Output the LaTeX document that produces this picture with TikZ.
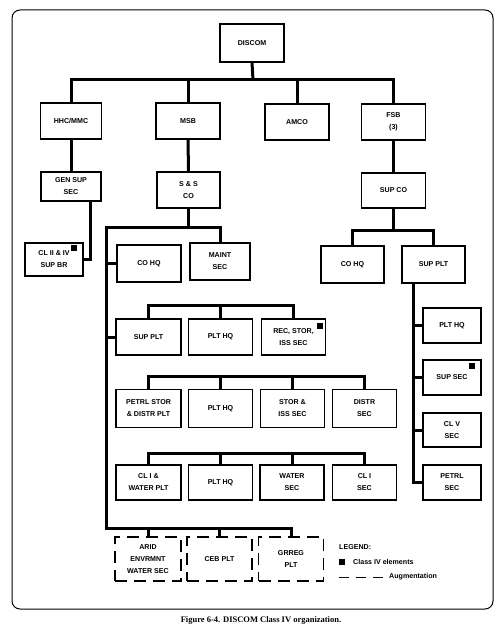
\documentclass[tikz,border=0pt]{standalone}
\usepackage{fontspec}
\setmainfont{Liberation Sans}
\newfontfamily\capfont{Liberation Serif}
\begin{document}
\begin{tikzpicture}[x=1pt,y=-1pt,
  box/.style={draw, line width=1.2pt, minimum width=64pt, minimum height=36pt, inner sep=1pt, align=center, font=\fontsize{7.1}{12}\selectfont\bfseries},
  dbox/.style={box, dash pattern=on 12pt off 7pt},
  conn/.style={line width=3pt, line join=miter},
  sq/.style={fill=black, minimum size=6pt, inner sep=0pt},
  legtext/.style={anchor=west, inner sep=0pt, font=\fontsize{7.1}{8}\selectfont\bfseries}]
\useasboundingbox (0,0) rectangle (496,631);
% frame
\draw[line width=1pt, rounded corners=8pt] (12,10) rectangle (493,609);
% level 1/2
\node[box, minimum height=38pt] (discom) at (252,43) {DISCOM};
\node[box, minimum width=61pt] (hhc) at (71,121) {HHC/MMC};
\node[box] (msb) at (188,121) {MSB};
\node[box] (amco) at (297,122) {AMCO};
\node[box] (fsb) at (393.5,122) {FSB\\(3)};
\coordinate (top) at (253,80);
\draw[conn] (hhc.north) |- (top) -| (fsb.north);
\draw[conn] (discom.south) -- (top);
\draw[conn] (msb.north) -- (msb.north |- top);
\draw[conn] (amco.north) -- (amco.north |- top);
% HHC branch
\node[box, minimum width=60pt, minimum height=29pt] (gensup) at (71,186.5) {GEN SUP\\SEC};
\node[box, minimum width=58pt, minimum height=33pt] (clii) at (54,259.5) {CL II \& IV\\SUP BR};
\node[sq, anchor=north east] (sqa) at ([xshift=-6pt,yshift=-2pt]clii.north east) {};
\coordinate (gsx) at (90,0);
\draw[conn] (hhc.south) -- (gensup.north);
\draw[conn] (gensup.south -| gsx) |- (clii.east);
% MSB branch
\node[box, minimum width=63pt] (sandsco) at (188.5,190) {S \& S\\CO};
\draw[conn] (msb.south) -- (sandsco.north);
\node[box, minimum height=37pt] (cohqa) at (149,263.5) {CO HQ};
\node[box, minimum width=60pt, minimum height=37pt] (maint) at (220,261.5) {MAINT\\SEC};
\coordinate (mbtop) at (106,227);
\coordinate (mbbot) at (106,528);
% group 2
\node[box, minimum width=65pt] (suppltA) at (148.5,337) {SUP PLT};
\node[box] (plthqA) at (220.5,337) {PLT HQ};
\node[box] (rec) at (293.5,337) {REC, STOR,\\ISS SEC};
\node[sq, anchor=north east] (sqb) at ([xshift=-3pt,yshift=-4pt]rec.north east) {};
% group 3
\node[box, minimum width=65pt, minimum height=38pt] (petrl) at (148.5,408.5) {PETRL STOR\\\& DISTR PLT};
\node[box, minimum height=38pt] (plthqB) at (220.5,408.5) {PLT HQ};
\node[box, minimum height=38pt] (stor) at (292.5,408.5) {STOR \&\\ISS SEC};
\node[box, minimum height=38pt] (distr) at (364.5,408.5) {DISTR\\SEC};
% group 4
\node[box, minimum width=65pt, minimum height=35pt] (cliw) at (148.5,482.5) {CL I \&\\WATER PLT};
\node[box, minimum height=35pt] (plthqC) at (220.5,482.5) {PLT HQ};
\node[box, minimum height=35pt] (water) at (292,482.5) {WATER\\SEC};
\node[box, minimum height=35pt] (cli) at (364.5,482.5) {CL I\\SEC};
% augmentation
\node[dbox, minimum width=66pt, minimum height=44pt] (arid) at (148,559) {ARID\\ENVRMNT\\WATER SEC};
\node[dbox, minimum width=65pt, minimum height=44pt] (ceb) at (219.5,559) {CEB PLT};
\node[dbox, minimum width=65pt, minimum height=44pt] (grreg) at (291,559) {GRREG\\PLT};
% MSB connectors
\draw[conn] (sandsco.south) -- (sandsco.south |- mbtop);
\draw[conn] (maint.north) |- (mbtop) -- (mbbot) -| (grreg.north);
\draw[conn] (cohqa.west) -- (cohqa.west -| mbtop);
\draw[conn] (suppltA.west) -- (suppltA.west -| mbtop);
\draw[conn] (arid.north) -- (arid.north |- mbbot);
\draw[conn] (ceb.north) -- (ceb.north |- mbbot);
\coordinate (g2) at (0,305);
\coordinate (g3) at (0,376);
\coordinate (g4) at (0,453);
\draw[conn] (suppltA.north) |- (g2 -| plthqA.north) -| (rec.north);
\draw[conn] (plthqA.north) -- (plthqA.north |- g2);
\draw[conn] (petrl.north) |- (g3 -| plthqB.north) -| (distr.north);
\draw[conn] (plthqB.north) -- (plthqB.north |- g3);
\draw[conn] (stor.north) -- (stor.north |- g3);
\draw[conn] (cliw.north) |- (g4 -| plthqC.north) -| (cli.north);
\draw[conn] (plthqC.north) -- (plthqC.north |- g4);
\draw[conn] (water.north) -- (water.north |- g4);
% FSB branch
\node[box, minimum height=35pt] (supco) at (393.5,190.5) {SUP CO};
\draw[conn] (fsb.south) -- (supco.north);
\node[box, minimum width=63pt, minimum height=37pt] (cohqb) at (352.5,264.5) {CO HQ};
\node[box, minimum width=63pt, minimum height=37pt] (suppltB) at (433.5,264.5) {SUP PLT};
\coordinate (rb) at (393.5,230);
\draw[conn] (cohqb.north) |- (rb) -| (suppltB.north);
\draw[conn] (supco.south) -- (rb);
\node[box, minimum width=58pt, minimum height=35pt] (plthqD) at (452,325.5) {PLT HQ};
\node[box, minimum width=58pt, minimum height=35pt] (supsec) at (452,377.5) {SUP SEC};
\node[sq, anchor=north east] (sqc) at ([xshift=-6pt,yshift=-3pt]supsec.north east) {};
\node[box, minimum width=58pt, minimum height=34pt] (clv) at (452,430) {CL V\\SEC};
\node[box, minimum width=58pt, minimum height=35pt] (petrlsec) at (452,482.5) {PETRL\\SEC};
\coordinate (rs) at (413,0);
\draw[conn] (suppltB.south -| rs) |- (petrlsec.west);
\draw[conn] (plthqD.west) -- (plthqD.west -| rs);
\draw[conn] (supsec.west) -- (supsec.west -| rs);
\draw[conn] (clv.west) -- (clv.west -| rs);
% legend
\node[legtext] (leg) at (339,547) {LEGEND:};
\node[sq] (legsq) at (342,562) {};
\node[legtext] (legc) at (353,562) {Class IV elements};
\coordinate (dla) at (339,577);
\coordinate (dlb) at (383,577);
\draw[line width=1pt, dash pattern=on 10pt off 7pt] (dla) -- (dlb);
\node[legtext] (lega) at (389,577) {Augmentation};
% caption
\node[font=\capfont\bfseries\fontsize{8.5}{10}\selectfont] (cap) at (261,620) {Figure 6-4. DISCOM Class IV organization.};
\end{tikzpicture}
\end{document}
